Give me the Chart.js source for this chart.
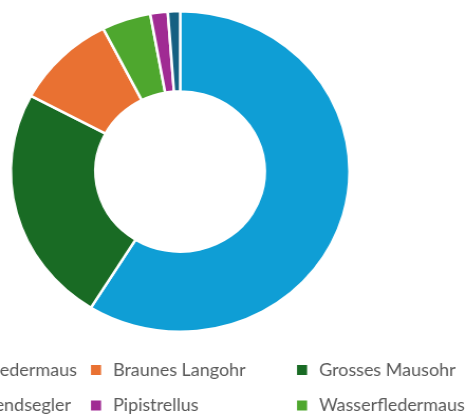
<!DOCTYPE html>
<html>
<head>
<meta charset="utf-8">
<script src="https://cdn.jsdelivr.net/npm/chart.js@4"></script>
<style>
  html, body { margin: 0; padding: 0; background: #ffffff; overflow: hidden; width: 466px; height: 415px; }
  #wrap { width: 441px; height: 415px; transform: scaleX(1.0567); transform-origin: 0 0; }
  canvas { display: block; }
</style>
</head>
<body>
<div id="wrap"><canvas id="c" width="441" height="415"></canvas></div>
<script>
// Slice order (clockwise from 12 o'clock)
const categories = ["Grosser Abendsegler", "Grosses Mausohr", "Braunes Langohr", "Wasserfledermaus", "Pipistrellus", "Weissrandfledermaus"];
const counts = [353, 144, 58, 28, 10, 7];
const colors = ["#0F9ED5", "#196B24", "#E97132", "#4EA72E", "#A02B93", "#156082"];
// Legend order (row by row, 3 columns)
const legendOrder = ["Weissrandfledermaus", "Braunes Langohr", "Grosses Mausohr", "Grosser Abendsegler", "Pipistrellus", "Wasserfledermaus"];

const gridLegend = {
  id: 'gridLegend',
  afterDraw(chart, args, opts) {
    const ctx = chart.ctx;
    const ds = chart.data.datasets[0];
    const area = chart.chartArea;
    ctx.save();
    ctx.font = opts.font;
    ctx.textBaseline = 'middle';
    ctx.textAlign = 'left';
    legendOrder.forEach((name, i) => {
      const idx = chart.data.labels.indexOf(name);
      const col = i % opts.columns;
      const row = Math.floor(i / opts.columns);
      const x = opts.startX + col * opts.colWidth;
      const y = area.bottom + opts.offsetY + row * opts.rowHeight;
      ctx.fillStyle = ds.backgroundColor[idx];
      ctx.fillRect(x, y - opts.boxH / 2, opts.boxW, opts.boxH);
      ctx.fillStyle = opts.color;
      ctx.fillText(name, x + opts.textGap, y + 0.5);
    });
    ctx.restore();
  }
};

new Chart(document.getElementById('c'), {
  type: 'doughnut',
  data: {
    labels: categories,
    datasets: [{
      data: counts,
      backgroundColor: colors,
      borderColor: '#ffffff',
      borderWidth: 2.5,
      hoverOffset: 0
    }]
  },
  options: {
    responsive: false,
    animation: false,
    cutout: '50%',
    layout: { padding: { top: 10, bottom: 82, left: 9, right: 109 } },
    plugins: {
      legend: { display: false },
      tooltip: { enabled: false },
      gridLegend: {
        font: '17px Lato',
        color: '#595959',
        columns: 3,
        startX: -108.9,
        colWidth: 195,
        rowHeight: 35.5,
        offsetY: 37,
        boxW: 9.5,
        boxH: 10,
        textGap: 20.8
      }
    }
  },
  plugins: [gridLegend]
});
</script>
</body>
</html>
